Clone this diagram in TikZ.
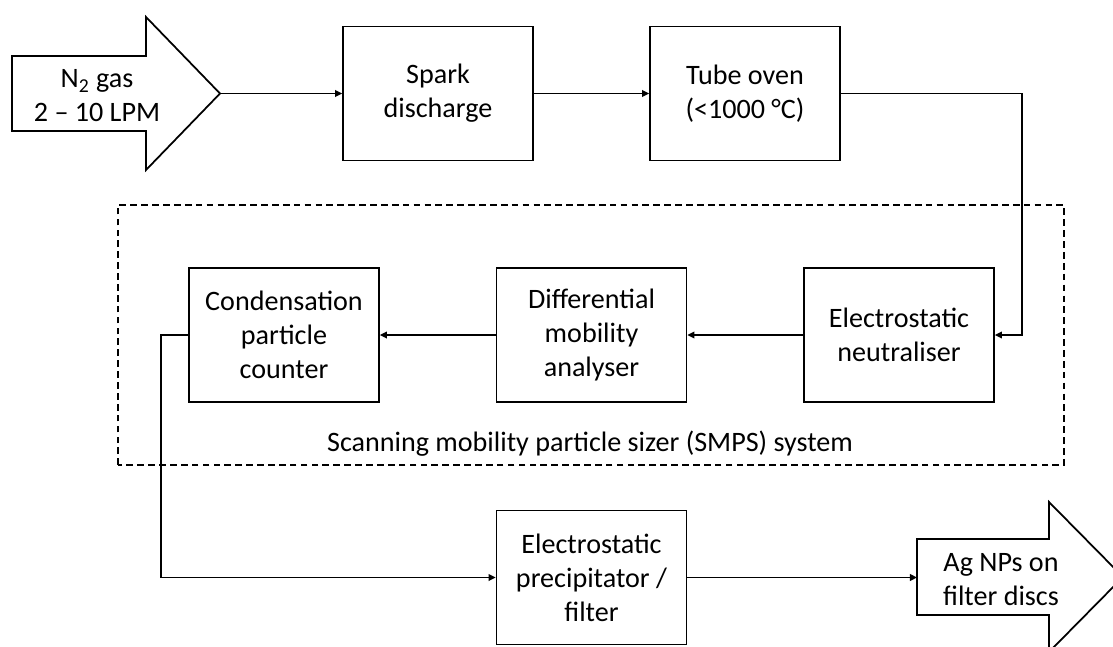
\documentclass[tikz,border=0pt]{standalone}
\usepackage{fontspec}
\setmainfont{Carlito}
\usetikzlibrary{arrows.meta}
\begin{document}
\begin{tikzpicture}[
  font=\fontsize{16}{19.3}\selectfont,
  box/.style={draw,line width=1pt,minimum width=3.8cm,minimum height=2.68cm,align=center,inner sep=0pt},
  flow/.style={line width=0.9pt,-{Triangle[length=4pt,width=3.8pt]}},
  bigarrow/.style={draw,line width=1pt,line join=miter},
  smpsframe/.style={draw,line width=1pt,dash pattern=on 3.8pt off 2.4pt}]
  \clip (0,0) rectangle (22.26,12.92);
  \draw[bigarrow] (0.24,10.30) -- (0.24,11.80) -- (2.92,11.80) -- (2.92,12.58)
    -- (4.40,11.05) -- (2.92,9.52) -- (2.92,10.30) -- cycle;
  \coordinate (n2tip) at (4.40,11.05);
  \node[align=center] (n2) at (1.94,11.0) {N\textsubscript{2} gas\\2 -- 10 LPM};
  \draw[bigarrow] (18.34,0.62) -- (18.34,2.14) -- (20.98,2.14) -- (20.98,2.88)
    -- (22.46,1.38) -- (20.98,-0.12) -- (20.98,0.62) -- cycle;
  \coordinate (agtail) at (18.34,1.37);
  \node[align=center] (ag) at (20.02,1.33) {Ag NPs on\\filter discs};
  \draw[smpsframe] (2.36,3.62) rectangle (21.28,8.82);
  \node (smps) at (11.8,4.04) {Scanning mobility particle sizer (SMPS) system};
  \node[box] (spark) at (8.76,11.05) {Spark\\discharge};
  \node[box] (oven) at (14.9,11.05) {Tube oven\\(<1000 °C)};
  \node[box] (neut) at (17.98,6.22) {Electrostatic\\neutraliser};
  \node[box] (dma) at (11.83,6.22) {Differential\\mobility\\analyser};
  \node[box] (cpc) at (5.68,6.22) {Condensation\\particle\\counter};
  \node[box] (esp) at (11.83,1.37) {Electrostatic\\precipitator /\\filter};
  \coordinate (bend1) at (20.44,11.05);
  \coordinate (bend2) at (3.22,6.22);
  \draw[flow] (n2tip) -- (spark.west);
  \draw[flow] (spark.east) -- (oven.west);
  \draw[flow] (oven.east) -- (bend1) |- (neut.east);
  \draw[flow] (neut.west) -- (dma.east);
  \draw[flow] (dma.west) -- (cpc.east);
  \draw[flow] (cpc.west) -- (bend2) |- (esp.west);
  \draw[flow] (esp.east) -- (agtail);
\end{tikzpicture}
\end{document}
